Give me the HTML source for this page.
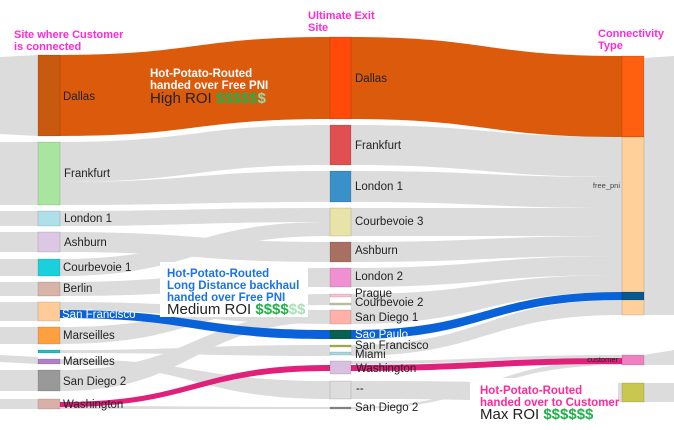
<!DOCTYPE html>
<html><head><meta charset="utf-8"><style>
body{margin:0;background:#fff;width:674px;height:430px;overflow:hidden}
svg{display:block;font-family:"Liberation Sans",sans-serif}
.h{fill:#ff2ad4;font-weight:bold;font-size:11px}
.l{fill:#222;font-size:11.5px}
</style></head><body>
<svg width="674" height="430" viewBox="0 0 674 430">
<g fill="#d6d6d6" opacity="0.85">
<path d="M0 57 L38 55 L38 136 L0 134Z"/>
<path d="M0 142 L38 142 L38 205 L0 205Z"/>
<path d="M0 211 L38 211 L38 226 L0 226Z"/>
<path d="M0 232 L38 232 L38 252 L0 252Z"/>
<path d="M0 259 L38 259 L38 276 L0 276Z"/>
<path d="M0 282 L38 282 L38 296 L0 296Z"/>
<path d="M0 302 L38 302 L38 321 L0 321Z"/>
<path d="M0 327 L38 327 L38 344 L0 344Z"/>
<path d="M0 355 L38 357 L38 364 L0 362Z"/>
<path d="M0 370 L38 370 L38 391 L0 391Z"/>
<path d="M0 399 L38 399 L38 409 L0 409Z"/>
<path d="M60 142 C195 142 195 125 330 125 L330 165 C195 165 195 182 60 182Z"/>
<path d="M60 182 C195 182 195 171 330 171 L330 202 C195 202 195 205 60 205Z"/>
<path d="M60 211 C195 211 195 208 330 208 L330 222 C195 222 195 226 60 226Z"/>
<path d="M60 232 C195 232 195 242 330 242 L330 262 C195 262 195 252 60 252Z"/>
<path d="M60 259 C195 259 195 222 330 222 L330 236 C195 236 195 276 60 276Z"/>
<path d="M60 282 C195 282 195 268 330 268 L330 287 C195 287 195 296 60 296Z"/>
<path d="M60 302 C195 302 195 310 330 310 L330 324 C195 324 195 310 60 310Z"/>
<path d="M60 327 C195 327 195 294 330 294 L330 305 C195 305 195 344 60 344Z"/>
<path d="M60 350 C195 350 195 345 330 345 L330 356 C195 356 195 353 60 353Z"/>
<path d="M60 359 C195 359 195 381 330 381 L330 399 C195 399 195 364 60 364Z"/>
<path d="M60 370 C195 370 195 312 330 312 L330 322 C195 322 195 391 60 391Z"/>
<path d="M60 406 C195 406 195 407 330 407 L330 409 C195 409 195 409 60 409Z"/>
<path d="M351 125 C486 125 486 137 622 137 L622 177 C486 177 486 165 351 165Z"/>
<path d="M351 171 C486 171 486 177 622 177 L622 208 C486 208 486 202 351 202Z"/>
<path d="M351 208 C486 208 486 208 622 208 L622 236 C486 236 486 236 351 236Z"/>
<path d="M351 242 C486 242 486 236 622 236 L622 256 C486 256 486 262 351 262Z"/>
<path d="M351 268 C486 268 486 256 622 256 L622 275 C486 275 486 287 351 287Z"/>
<path d="M351 294 C486 294 486 275 622 275 L622 292 C486 292 486 324 351 324Z"/>
<path d="M351 345 C486 345 486 300 622 300 L622 315 C486 315 486 356 351 356Z"/>
<path d="M351 361 C486 361 486 355 622 355 L622 358 C486 358 486 364 351 364Z"/>
<path d="M351 381 C486 381 486 383 622 383 L622 402 C486 402 486 399 351 399Z"/>
<path d="M351 407 C486 407 486 360 622 360 L622 365 C486 365 486 409 351 409Z"/>
<path d="M644 58 L674 56 L674 137 L644 137Z"/>
<path d="M644 137 L674 137 L674 315 L644 315Z"/>
<path d="M644 355 L674 350 L674 365 L644 365Z"/>
<path d="M644 383 L674 383 L674 402 L644 402Z"/>
</g>
<path fill="#dc5a0c" d="M60 55 C195 55 195 37 330 37 L330 119 C195 119 195 136 60 136Z"/>
<path fill="#dc5a0c" d="M351 37 C486 37 486 56 622 56 L622 137 C486 137 486 119 351 119Z"/>
<path fill="#0a62d8" d="M60 310 C195 310 195 330 330 330 L330 339 C195 339 195 318 60 318Z"/>
<path fill="#0a62d8" d="M351 330 C486 330 486 292 622 292 L622 300 C486 300 486 339 351 339Z"/>
<path fill="#e0207a" d="M60 402 C195 402 195 365 330 365 L330 371 C195 371 195 407 60 407Z"/>
<path fill="#e0207a" d="M351 365 C486 365 486 358 622 358 L622 364 C486 364 486 371 351 371Z"/>
<rect x="160" y="262" width="148" height="55" fill="#fff"/>
<rect x="470" y="378" width="148" height="52" fill="#fff"/>
<g stroke="#0003" stroke-width="0.6">
<rect x="38" y="55" width="22" height="81" fill="#c85a10"/>
<rect x="38" y="142" width="22" height="63" fill="#a8e6a0"/>
<rect x="38" y="211" width="22" height="15" fill="#aee0ea"/>
<rect x="38" y="232" width="22" height="20" fill="#dcc8e4"/>
<rect x="38" y="259" width="22" height="17" fill="#1ad0dc"/>
<rect x="38" y="282" width="22" height="14" fill="#d8b4a8"/>
<rect x="38" y="302" width="22" height="19" fill="#ffcc99"/>
<rect x="38" y="327" width="22" height="17" fill="#ffa040"/>
<rect x="38" y="350" width="22" height="3" fill="#1ac0c8"/>
<rect x="38" y="359" width="22" height="5" fill="#b080c8"/>
<rect x="38" y="370" width="22" height="21" fill="#999"/>
<rect x="38" y="399" width="22" height="10" fill="#d8b0a8"/>
<rect x="330" y="37" width="21" height="82" fill="#ff4a0a"/>
<rect x="330" y="125" width="21" height="40" fill="#e05050"/>
<rect x="330" y="171" width="21" height="31" fill="#3a90c8"/>
<rect x="330" y="208" width="21" height="28" fill="#e8e4a8"/>
<rect x="330" y="242" width="21" height="20" fill="#a87060"/>
<rect x="330" y="268" width="21" height="19" fill="#f090d0"/>
<rect x="330" y="294" width="21" height="3" fill="#ffc0d0"/>
<rect x="330" y="303" width="21" height="2" fill="#c8c8a0"/>
<rect x="330" y="310" width="21" height="14" fill="#ffb0a8"/>
<rect x="330" y="330" width="21" height="9" fill="#0a6050"/>
<rect x="330" y="345" width="21" height="2" fill="#b0b040"/>
<rect x="330" y="352" width="21" height="3" fill="#a8d8e0"/>
<rect x="330" y="361" width="21" height="13" fill="#d8c0e0"/>
<rect x="330" y="381" width="21" height="18" fill="#ddd"/>
<rect x="330" y="407" width="21" height="2" fill="#888"/>
<rect x="622" y="56" width="22" height="81" fill="#ff6010"/>
<rect x="622" y="137" width="22" height="178" fill="#ffd09a"/>
<rect x="622" y="292" width="22" height="8" fill="#0a5890"/>
<rect x="622" y="355" width="22" height="10" fill="#f080c0"/>
<rect x="622" y="383" width="22" height="19" fill="#c8c850"/>
</g>
<text class="h" x="14" y="38">Site where Customer</text>
<text class="h" x="14" y="50">is connected</text>
<text class="h" x="308" y="19">Ultimate Exit</text>
<text class="h" x="308" y="31">Site</text>
<text class="h" x="598" y="37">Connectivity</text>
<text class="h" x="598" y="49">Type</text>
<text class="l" x="63" y="100">Dallas</text>
<text class="l" x="64" y="177">Frankfurt</text>
<text class="l" x="64" y="222">London 1</text>
<text class="l" x="64" y="246">Ashburn</text>
<text class="l" x="63" y="271">Courbevoie 1</text>
<text class="l" x="63" y="292">Berlin</text>
<text x="62" y="318" font-size="11.5" fill="#fff">San Francisco</text>
<text class="l" x="63" y="339">Marseilles</text>
<text class="l" x="63" y="365">Marseilles</text>
<text class="l" x="63" y="385">San Diego 2</text>
<text class="l" x="63" y="408">Washington</text>
<text class="l" x="355" y="82">Dallas</text>
<text class="l" x="355" y="149">Frankfurt</text>
<text class="l" x="355" y="190">London 1</text>
<text class="l" x="355" y="225">Courbevoie 3</text>
<text class="l" x="355" y="254">Ashburn</text>
<text class="l" x="355" y="280">London 2</text>
<text class="l" x="355" y="297">Prague</text>
<text class="l" x="355" y="306">Courbevoie 2</text>
<text class="l" x="355" y="321">San Diego 1</text>
<text x="355" y="338" font-size="11.5" fill="#fff">Sao Paulo</text>
<text class="l" x="355" y="349">San Francisco</text>
<text class="l" x="355" y="358">Miami</text>
<text class="l" x="356" y="372">Washington</text>
<text class="l" x="356" y="392">--</text>
<text class="l" x="355" y="411">San Diego 2</text>
<text x="620" y="188" font-size="7.5" fill="#444" text-anchor="end">free_pni</text>
<text x="618" y="362" font-size="7.5" fill="#222" text-anchor="end">customer</text>
<g font-weight="bold" font-size="11.5">
<text x="150" y="77" fill="#fff">Hot-Potato-Routed</text>
<text x="150" y="89" fill="#fff">handed over Free PNI</text>
<text x="167" y="277" fill="#1a73e8">Hot-Potato-Routed</text>
<text x="167" y="289" fill="#1a73e8">Long Distance backhaul</text>
<text x="167" y="301" fill="#1a73e8">handed over Free PNI</text>
<text x="480" y="394" fill="#ff2a9a">Hot-Potato-Routed</text>
<text x="480" y="406" fill="#ff2a9a">handed over to Customer</text>
</g>
<text x="150" y="103" font-size="15" fill="#222">High ROI <tspan fill="#20b04a" font-weight="bold">$$$$$</tspan><tspan fill="#8fdca8" font-weight="bold">$</tspan></text>
<text x="167" y="314" font-size="15" fill="#222">Medium ROI  <tspan fill="#20b04a" font-weight="bold">$$$$</tspan><tspan fill="#a8e0b8" font-weight="bold">$$</tspan></text>
<text x="480" y="419" font-size="15" fill="#222">Max ROI <tspan fill="#20b04a" font-weight="bold">$$$$$$</tspan></text>
</svg>
</body></html>
